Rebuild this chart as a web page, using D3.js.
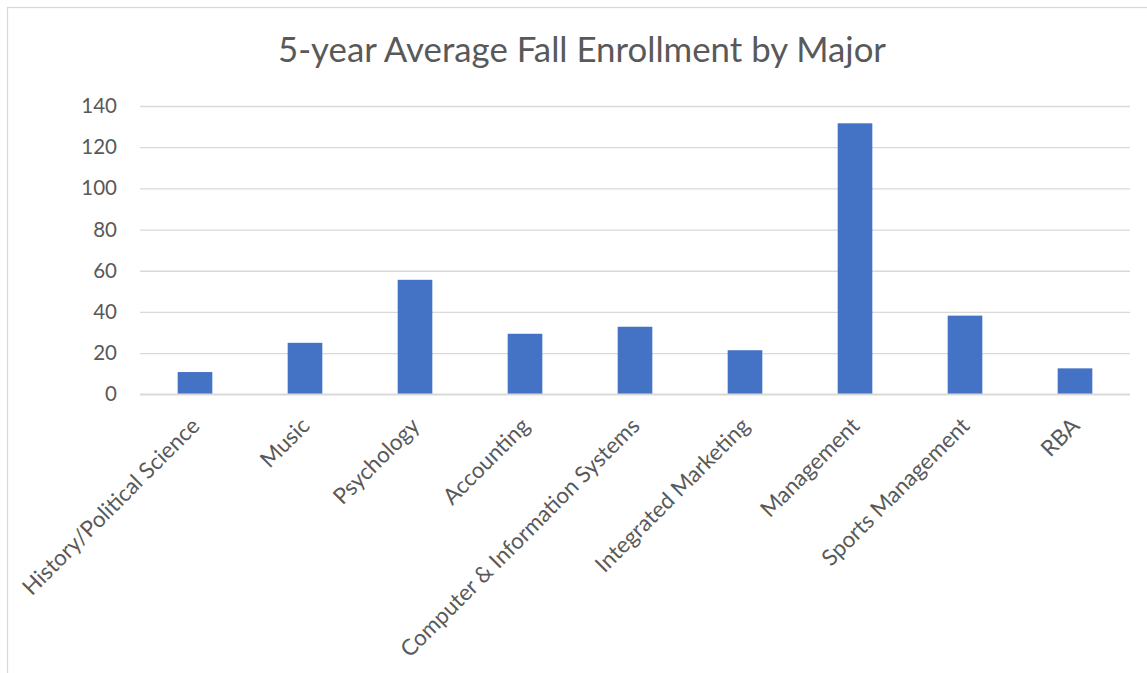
<!DOCTYPE html>
<html>
<head>
<meta charset="utf-8">
<script src="https://cdn.jsdelivr.net/npm/d3@7"></script>
<style>
  html, body { margin: 0; padding: 0; background: #fff; }
  svg { display: block; }
  text { font-family: Lato, "Open Sans", sans-serif; fill: #595959; }
</style>
</head>
<body>
<svg id="chart" width="1147" height="673"></svg>
<script>
// Majors and their 5-year average fall enrollment
const majors = [
  "History/Political Science", "Music", "Psychology", "Accounting",
  "Computer & Information Systems", "Integrated Marketing", "Management",
  "Sports Management", "RBA"
];
const enrollment = [10.8, 25, 55.6, 29.4, 32.8, 21.4, 131.6, 38.2, 12.6];
const yTicks = [0, 20, 40, 60, 80, 100, 120, 140];
const chartTitle = "5-year Average Fall Enrollment by Major";

const W = 1147, H = 673;
const margin = { left: 140, right: 17, top: 106, bottom: 278.7 };

const svg = d3.select("#chart");

// chart area frame
svg.append("rect")
  .attr("x", 7.5).attr("y", 7.5)
  .attr("width", W + 10).attr("height", H + 10)
  .attr("fill", "#fff").attr("stroke", "#d9d9d9").attr("stroke-width", 1.3);

const x = d3.scaleBand()
  .domain(majors)
  .range([margin.left, W - margin.right])
  .paddingInner(0.685).paddingOuter(0.3425);

const y = d3.scaleLinear()
  .domain([0, 140])
  .range([H - margin.bottom, margin.top]);

// title
svg.append("text")
  .attr("x", 582).attr("y", 62)
  .attr("text-anchor", "middle")
  .attr("font-size", 34.8)
  .text(chartTitle);

// horizontal gridlines and value labels
const yAxis = d3.axisLeft(y)
  .tickValues(yTicks)
  .tickSize(-(W - margin.left - margin.right))
  .tickPadding(23);

const gy = svg.append("g")
  .attr("transform", `translate(${margin.left},0)`)
  .call(yAxis);
gy.select(".domain").remove();
gy.selectAll(".tick line").attr("stroke", "#d9d9d9").attr("stroke-width", 1.3);
gy.selectAll(".tick text")
  .attr("font-size", 20.5)
  .attr("fill", "#595959")
  .style("font-family", "Lato, 'Open Sans', sans-serif");

// bars
svg.append("g").selectAll("rect")
  .data(majors)
  .join("rect")
  .attr("x", d => x(d))
  .attr("width", x.bandwidth())
  .attr("y", (d, i) => y(enrollment[i]))
  .attr("height", (d, i) => y(0) - y(enrollment[i]))
  .attr("fill", "#4472c4");

// category axis baseline
svg.append("line")
  .attr("x1", margin.left).attr("x2", W - margin.right)
  .attr("y1", y(0)).attr("y2", y(0))
  .attr("stroke", "#d9d9d9").attr("stroke-width", 1.5);

// rotated category labels
const xAxis = d3.axisBottom(x).tickSize(0).tickPadding(0);
const gx = svg.append("g")
  .attr("transform", `translate(0,${y(0)})`)
  .call(xAxis);
gx.select(".domain").remove();
gx.selectAll(".tick text")
  .attr("font-size", 22.4)
  .attr("fill", "#595959")
  .style("font-family", "Lato, 'Open Sans', sans-serif")
  .attr("text-anchor", "end")
  .attr("dy", null)
  .attr("transform", "translate(6,33) rotate(-45)");
</script>
</body>
</html>
